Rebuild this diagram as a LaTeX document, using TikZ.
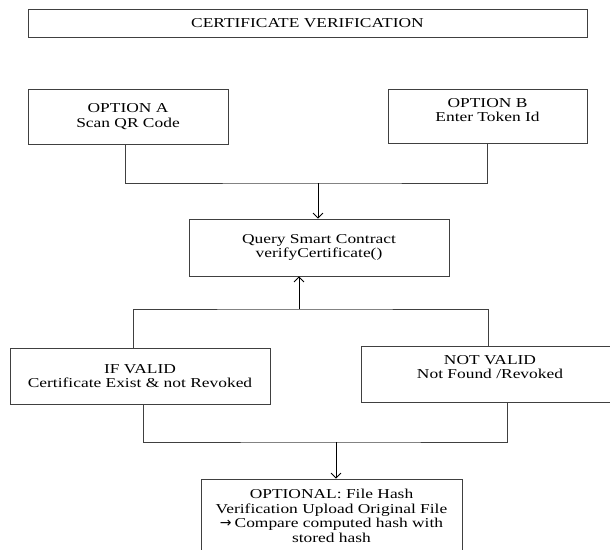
\documentclass[tikz,border=0pt]{standalone}
\usepackage{fontspec}
\usetikzlibrary{arrows.meta,positioning,calc}
\newfontfamily\figfont{Liberation Serif}[FakeStretch=1.28]
\newfontfamily\symfont{DejaVu Sans}

\begin{document}
\begin{tikzpicture}[x=1pt, y=-1pt,
    box/.style={draw=black!75, line width=0.8pt, align=center, inner sep=2pt,
        font=\figfont\fontsize{13.6}{14.6}\selectfont},
    link/.style={draw=black!75, line width=0.8pt},
    arr/.style={link, draw=black, -{Straight Barb[length=5pt,width=10pt]}}]
    \useasboundingbox (0,0) rectangle (610,549);

    % Header
    \node[box, minimum width=559, minimum height=28] (title) at (307.5, 23) {CERTIFICATE VERIFICATION};

    % Two ways in
    \node[box, minimum width=200, minimum height=55] (optA) at (128, 116.5) {OPTION A\\Scan QR Code};
    \node[box, minimum width=199, minimum height=54] (optB) at (487.5, 116) {OPTION B\\Enter Token Id\\[-2.6pt]};

    % Contract call
    \node[box, minimum width=260, minimum height=57] (query) at (319, 247.5) {Query Smart Contract\\verifyCertificate()};

    % Results
    \node[box, minimum width=260, minimum height=56] (valid) at (140, 376) {IF VALID\\Certificate Exist \& not Revoked};
    \node[box, minimum width=258, minimum height=56] (notvalid) at (490, 374) {NOT VALID\\Not Found /Revoked\\[-0.6pt]};

    % Optional file check
    \node[box, minimum width=261, minimum height=74] (hashchk) at (331.5, 516)
        {OPTIONAL: File Hash\\Verification Upload Original File\\{\symfont\fontsize{14}{14.6}\selectfont →}\kern3pt Compare computed hash with\\stored hash};

    % Joints
    \coordinate (j1) at (318, 183);
    \coordinate (j2) at (299, 309);
    \coordinate (j3) at (336, 442);

    % Options -> query
    \draw[link] ([xshift=-3]optA.south) |- (j1) -| (optB.south);
    \draw[arr] (j1) -- (j1 |- query.north);

    % Results -> query
    \draw[link] ([xshift=-7]valid.north) |- (j2) -| ([xshift=-2]notvalid.north);
    \draw[arr] (j2) -- (j2 |- query.south);

    % Results -> file check
    \draw[link] ([xshift=3]valid.south) |- (j3) -| ([xshift=17]notvalid.south);
    \draw[arr] (j3) -- (j3 |- hashchk.north);
\end{tikzpicture}
\end{document}
